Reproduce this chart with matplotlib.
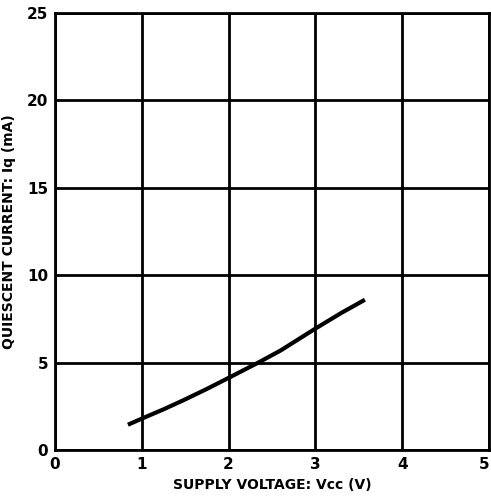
import numpy as np
import matplotlib.pyplot as plt

# curve
vcc = [0.84, 1.0, 1.25, 1.5, 1.75, 2.0, 2.34, 2.6, 3.0, 3.3, 3.57]
iq = [1.45, 1.8, 2.33, 2.9, 3.5, 4.13, 5.0, 5.7, 6.95, 7.85, 8.6]

x_ticks = [0, 1, 2, 3, 4, 5]
y_ticks = [0, 5, 10, 15, 20, 25]

fig = plt.figure(figsize=(4.91, 4.99), dpi=100)
ax = fig.add_axes([0.112, 0.098, 0.884, 0.876])

ax.plot(vcc, iq, color="black", linewidth=3.0, solid_capstyle="butt",
        solid_joinstyle="round")

ax.set_xlim(0, 5)
ax.set_ylim(0, 25)
ax.set_xticks(x_ticks)
ax.set_yticks(y_ticks)
ax.grid(True, color="black", linewidth=2.0)
ax.set_axisbelow(True)
for s in ax.spines.values():
    s.set_linewidth(2.0)

ax.tick_params(length=0, pad=5, labelsize=11)
for lab in ax.get_xticklabels() + ax.get_yticklabels():
    lab.set_fontweight("bold")
ax.get_xticklabels()[-1].set_horizontalalignment("right")

ax.set_xlabel("SUPPLY VOLTAGE: Vcc (V)", fontsize=10, fontweight="bold", labelpad=4)
ax.set_ylabel("QUIESCENT CURRENT: Iq (mA)", fontsize=10, fontweight="bold", labelpad=8)

fig.savefig("out.png", dpi=100)
